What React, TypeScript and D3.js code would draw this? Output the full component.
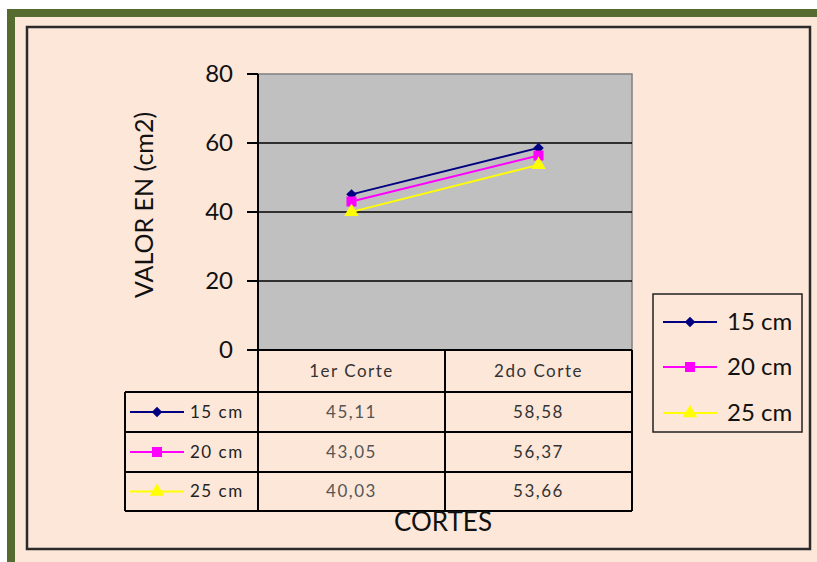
import React from "react";
import * as d3 from "d3";

const categories = ["1er Corte", "2do Corte"];
const seriesNames = ["15 cm", "20 cm", "25 cm"];
const values15 = [45.11, 58.58];
const values20 = [43.05, 56.37];
const values25 = [40.03, 53.66];
const valueLabels15 = ["45,11", "58,58"];
const valueLabels20 = ["43,05", "56,37"];
const valueLabels25 = ["40,03", "53,66"];
const yTicks = [0, 20, 40, 60, 80];

const seriesColors = ["#000080", "#FF00FF", "#FFFF00"];
const seriesShapes = [d3.symbolSquare, d3.symbolSquare, d3.symbolTriangle];
const seriesRotation = [45, 0, 0];

const W = 817;
const H = 562;
const FONT = "Lato, 'Open Sans', sans-serif";

// plot area
const PL = 258;
const PR = 632;
const PT = 74;
const PB = 350;

// data table rows
const tableLeft = 125;
const rowLines = [350, 392, 432, 472, 511];

export default function App() {
  const x = d3.scaleBand<string>().domain(categories).range([PL, PR]);
  const y = d3.scaleLinear().domain([0, 80]).range([PB, PT]);

  const series = [
    { name: seriesNames[0], values: values15, labels: valueLabels15 },
    { name: seriesNames[1], values: values20, labels: valueLabels20 },
    { name: seriesNames[2], values: values25, labels: valueLabels25 },
  ];

  const line = d3
    .line<number>()
    .x((_, i) => (x(categories[i]) as number) + x.bandwidth() / 2)
    .y((v) => y(v));

  const marker = (i: number, size: number) =>
    d3.symbol().type(seriesShapes[i]).size(size)() as string;

  const markerSizes = [55, 100, 90];

  const legendKey = (i: number, x0: number, x1: number, cy: number, size: number) => (
    <g>
      <line x1={x0} x2={x1} y1={cy} y2={cy} stroke={seriesColors[i]} strokeWidth={2} />
      <path
        d={marker(i, size)}
        transform={`translate(${(x0 + x1) / 2},${cy}) rotate(${seriesRotation[i]})`}
        fill={seriesColors[i]}
      />
    </g>
  );

  return (
    <svg
      width={W}
      height={H}
      style={{ position: "absolute", left: 0, top: 0 }}
      fontFamily={FONT}
    >
      <rect x={0} y={0} width={W} height={H} fill="#ffffff" />
      {/* outer frame */}
      <rect x={11} y={13} width={W + 20} height={H} fill="#FCE7D9" stroke="#556B2F" strokeWidth={8} />
      <rect x={27} y={27} width={783} height={522} fill="none" stroke="#2b2b2b" strokeWidth={2.5} />

      {/* plot area */}
      <rect x={PL} y={PT} width={PR - PL} height={PB - PT} fill="#C0C0C0" stroke="#808080" strokeWidth={1.5} />
      {yTicks.filter((t) => t > 0 && t < 80).map((t) => (
        <line key={t} x1={PL} x2={PR} y1={y(t)} y2={y(t)} stroke="#000" strokeWidth={1.5} />
      ))}
      {/* y axis */}
      <line x1={PL} x2={PL} y1={PT} y2={PB} stroke="#000" strokeWidth={2} />
      {yTicks.map((t) => (
        <g key={t}>
          <line x1={PL - 11} x2={PL} y1={y(t)} y2={y(t)} stroke="#000" strokeWidth={2} />
          <text x={233} y={y(t)} dy="0.35em" textAnchor="end" fontSize={24} fill="#111">
            {t}
          </text>
        </g>
      ))}
      <text
        transform={`translate(153,205) rotate(-90)`}
        textAnchor="middle"
        fontSize={25}
        fill="#111"
      >
        VALOR EN (cm2)
      </text>

      {/* series */}
      {series.map((s, i) => (
        <g key={s.name}>
          <path d={line(s.values) as string} fill="none" stroke={seriesColors[i]} strokeWidth={2} />
          {s.values.map((v, j) => (
            <path
              key={j}
              d={marker(i, markerSizes[i])}
              transform={`translate(${(x(categories[j]) as number) + x.bandwidth() / 2},${y(v)}) rotate(${seriesRotation[i]})`}
              fill={seriesColors[i]}
            />
          ))}
        </g>
      ))}

      {/* data table */}
      <g stroke="#000" strokeWidth={2}>
        <line x1={PL} x2={PR} y1={rowLines[0]} y2={rowLines[0]} />
        {rowLines.slice(1).map((ry) => (
          <line key={ry} x1={tableLeft} x2={PR} y1={ry} y2={ry} />
        ))}
        <line x1={tableLeft} x2={tableLeft} y1={rowLines[1]} y2={rowLines[4]} />
        <line x1={PL} x2={PL} y1={rowLines[0]} y2={rowLines[4]} />
        {categories.map((c) => (
          <line
            key={c}
            x1={(x(c) as number) + x.bandwidth()}
            x2={(x(c) as number) + x.bandwidth()}
            y1={rowLines[0]}
            y2={rowLines[4]}
          />
        ))}
      </g>
      {categories.map((c) => (
        <text
          key={c}
          x={(x(c) as number) + x.bandwidth() / 2}
          y={(rowLines[0] + rowLines[1]) / 2}
          dy="0.35em"
          textAnchor="middle"
          fontSize={17}
          letterSpacing={1.5}
          fill="#333"
        >
          {c}
        </text>
      ))}
      {series.map((s, i) => {
        const cy = (rowLines[i + 1] + rowLines[i + 2]) / 2;
        return (
          <g key={s.name}>
            {legendKey(i, 130, 184, cy, markerSizes[i])}
            <text x={190} y={cy} dy="0.35em" fontSize={17} letterSpacing={1.5} fill="#222">
              {s.name}
            </text>
            {s.labels.map((lab, j) => (
              <text
                key={j}
                x={(x(categories[j]) as number) + x.bandwidth() / 2}
                y={cy}
                dy="0.35em"
                textAnchor="middle"
                fontSize={17}
                letterSpacing={1.5}
                fill={j === 0 ? "#555" : "#333"}
              >
                {lab}
              </text>
            ))}
          </g>
        );
      })}
      <text x={443} y={531} textAnchor="middle" fontSize={26} fill="#111">
        CORTES
      </text>

      {/* legend */}
      <rect x={653} y={294} width={149} height={138} fill="none" stroke="#222" strokeWidth={1.5} />
      {series.map((s, i) => {
        const cy = [322, 367, 413][i];
        return (
          <g key={s.name}>
            {legendKey(i, 663, 717, cy, markerSizes[i])}
            <text x={727} y={cy} dy="0.35em" fontSize={24} fill="#111">
              {s.name}
            </text>
          </g>
        );
      })}
    </svg>
  );
}
